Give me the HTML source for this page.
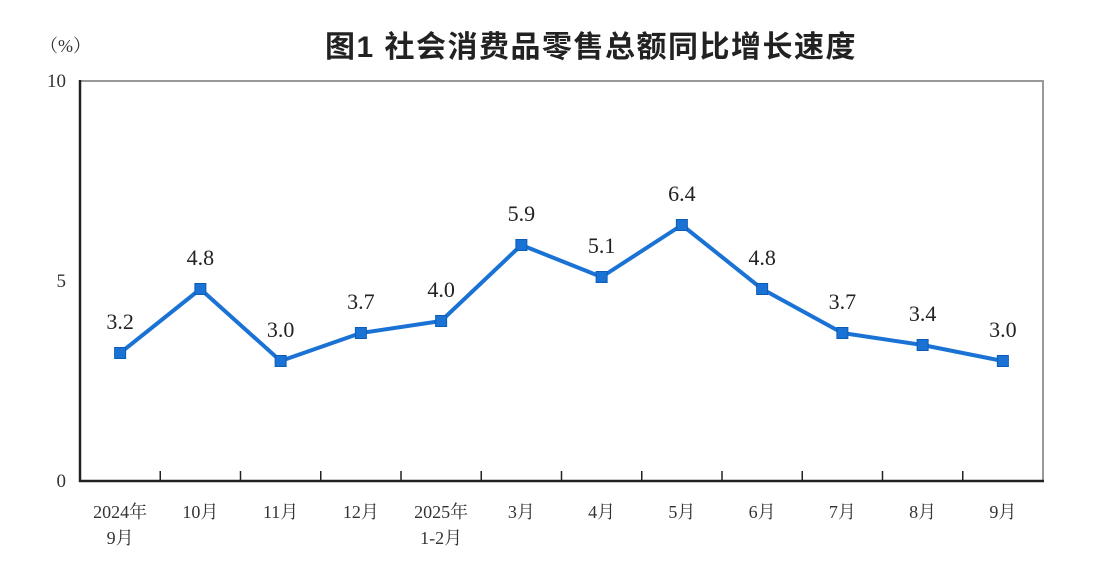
<!DOCTYPE html>
<html><head><meta charset="utf-8"><style>
body{margin:0;background:#fff;}
svg{display:block;font-family:"Liberation Serif","Noto Serif CJK SC",serif;}
</style></head><body>
<svg id="chart" width="1110" height="570">
<text x="591" y="57" text-anchor="middle" font-size="30" font-weight="bold" letter-spacing="1.5" fill="#222" font-family="'Liberation Sans','Noto Sans CJK SC',sans-serif">图1  社会消费品零售总额同比增长速度</text>
<text x="40" y="52" font-size="18" fill="#333">（%）</text>
<g id="axes"></g>
<g id="marks"></g>
</svg>
<script>
const categories=[["2024年","9月"],["10月"],["11月"],["12月"],["2025年","1-2月"],["3月"],["4月"],["5月"],["6月"],["7月"],["8月"],["9月"]];
const values=[3.2,4.8,3.0,3.7,4.0,5.9,5.1,6.4,4.8,3.7,3.4,3.0];
const yTicks=[0,5,10];
const L=80,R=1043,T=81,B=481,yMax=10;
const bw=(R-L)/categories.length;
const xs=i=>L+bw*(i+0.5);
const ys=v=>B-(v/yMax)*(B-T);
const NS="http://www.w3.org/2000/svg";
function mk(tag,attrs,parent,text){const e=document.createElementNS(NS,tag);for(const k in attrs)e.setAttribute(k,attrs[k]);if(text!==undefined)e.textContent=text;parent.appendChild(e);return e;}
const ax=document.getElementById('axes'),mg=document.getElementById('marks');
let e;
e=mk('rect',{x:L,y:T,width:R-L,height:B-T,fill:'none',stroke:'#999','stroke-width':2},ax);


e=mk('line',{x1:L,y1:T-1,x2:L,y2:B+1,stroke:'#222','stroke-width':2.5},ax);


e=mk('line',{x1:L-1,y1:B,x2:R+1,y2:B,stroke:'#222','stroke-width':2.5},ax);


yTicks.forEach(t=>{
 e=mk('text',{x:L-14,y:ys(t)+6,'text-anchor':'end','font-size':19,fill:'#333'},ax,String(t));
 
 
});
for(let i=1;i<categories.length;i++){
 const x=L+bw*i;
 e=mk('line',{x1:x,y1:B,x2:x,y2:B-10,stroke:'#222','stroke-width':1.5},ax);
 
 
}
categories.forEach((c,i)=>{
 c.forEach((s,j)=>{
  e=mk('text',{x:xs(i),y:518+j*26,'text-anchor':'middle','font-size':18,fill:'#333'},ax,s);
  
  
 });
});
const pts=values.map((v,i)=>xs(i)+','+ys(v)).join(' ');
e=mk('polyline',{points:pts,fill:'none',stroke:'#1a73d4','stroke-width':4,'stroke-linejoin':'round'},mg);


values.forEach((v,i)=>{
 e=mk('rect',{x:xs(i)-5.5,y:ys(v)-5.5,width:11,height:11,fill:'#1a73d4',stroke:'#0d5cb3','stroke-width':1},mg);
 
 
 e=mk('text',{x:xs(i),y:ys(v)-24,'text-anchor':'middle','font-size':22,fill:'#222'},mg,v.toFixed(1));
 
 
});
</script>
</body></html>
